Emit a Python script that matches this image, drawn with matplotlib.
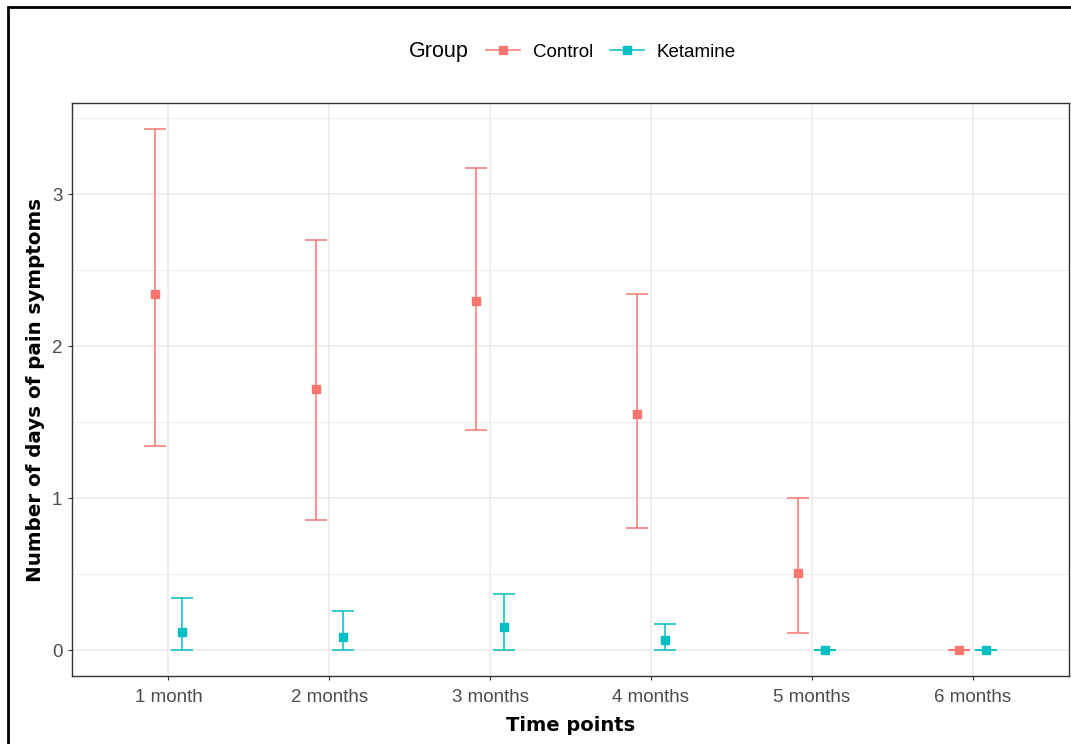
import matplotlib
matplotlib.use('Agg')
from matplotlib import pyplot as plt
from matplotlib.lines import Line2D
from matplotlib.patches import Rectangle
import numpy as np

time_points = ['1 month', '2 months', '3 months', '4 months', '5 months', '6 months']
groups = ['Control', 'Ketamine']
colors = {'Control': '#F8766D', 'Ketamine': '#00BFC4'}

control_mean = [2.34, 1.72, 2.30, 1.55, 0.51, 0.0]
control_low = [1.34, 0.855, 1.45, 0.80, 0.11, 0.0]
control_high = [3.43, 2.70, 3.17, 2.34, 1.0, 0.0]

ketamine_mean = [0.12, 0.085, 0.15, 0.065, 0.0, 0.0]
ketamine_low = [0.0, 0.0, 0.0, 0.0, 0.0, 0.0]
ketamine_high = [0.34, 0.26, 0.37, 0.17, 0.0, 0.0]

plt.rcParams['font.family'] = ['Liberation Sans', 'DejaVu Sans']

fig = plt.figure(figsize=(10.71, 7.44), dpi=100)
ax = fig.add_axes([72 / 1071, 1 - 676 / 744, (1069 - 72) / 1071, (676 - 103) / 744])

x = np.arange(1, len(time_points) + 1)
series = {
    'Control': (control_mean, control_low, control_high, -0.085),
    'Ketamine': (ketamine_mean, ketamine_low, ketamine_high, 0.085),
}
for g in groups:
    mean, low, high, off = series[g]
    mean = np.array(mean)
    yerr = [mean - np.array(low), np.array(high) - mean]
    ax.errorbar(x + off, mean, yerr=yerr, fmt='s', color=colors[g], ms=5.5,
                elinewidth=1.1, capsize=8, capthick=1.1, zorder=3)

ax.set_xlim(0.4, 6.6)
ax.set_ylim(-0.171, 3.6)
ax.set_xticks(x)
ax.set_xticklabels(time_points)
ax.set_yticks([0, 1, 2, 3])
ax.set_yticks([0.5, 1.5, 2.5, 3.5], minor=True)
ax.grid(True, which='major', color='#EBEBEB', lw=1.1)
ax.grid(True, which='minor', axis='y', color='#EBEBEB', lw=0.6)
ax.set_axisbelow(True)
ax.tick_params(which='major', length=3, width=0.8, color='#333333',
               labelcolor='#4D4D4D', labelsize=13.5, pad=4)
ax.tick_params(axis='x', which='major', pad=6.5)
ax.tick_params(which='minor', length=0)
for s in ax.spines.values():
    s.set_color('#333333')
    s.set_linewidth(1.0)

ax.set_xlabel('Time points', fontsize=14, fontweight='bold', family='DejaVu Sans', labelpad=7)
ax.set_ylabel('Number of days of pain symptoms', fontsize=14.3, fontweight='bold',
              family='DejaVu Sans', labelpad=5)

# legend on top
fig.text(409 / 1071, 1 - 52 / 744, 'Group', fontsize=15.5, va='center', ha='left', color='black')
handles = [Line2D([], [], color=colors[g], marker='s', ms=5.5, lw=1.1) for g in groups]
fig.legend(handles, groups, loc='center left', bbox_to_anchor=(486 / 1071, 1 - 52 / 744),
           ncol=2, frameon=False, fontsize=13.5, handlelength=1.8, handletextpad=0.7,
           columnspacing=0.9, borderaxespad=0, borderpad=0)

# outer frame (top and left edges of screenshot)
fig.add_artist(Rectangle((8 / 1071, -0.1), 1.2, 0.1 + 1 - 7 / 744, transform=fig.transFigure,
                         fill=False, edgecolor='black', lw=2, clip_on=False))

fig.savefig('out.png', dpi=100)
